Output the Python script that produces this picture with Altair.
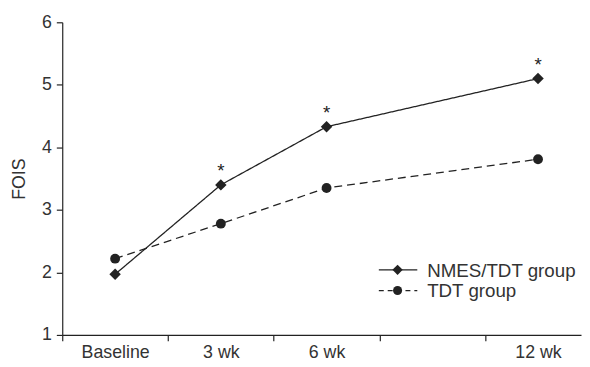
import altair as alt
import pandas as pd

# ---- data ----
weeks = [0, 3, 6, 12]
nmes_tdt = [1.97, 3.40, 4.33, 5.10]
tdt = [2.22, 2.78, 3.35, 3.81]
significant = [False, True, True, True]
series_names = ["NMES/TDT group", "TDT group"]
tick_labels = ["Baseline", "3 wk", "6 wk", "12 wk"]
y_ticks = [1, 2, 3, 4, 5, 6]
# guide positions (in weeks): labels sit on the time points, tick marks between slots
label_positions = [0, 3, 6, 12]
tick_mark_positions = [-1.5, 1.5, 4.5, 7.5, 10.5]

rows = []
for w, a, s in zip(weeks, nmes_tdt, significant):
    rows.append({"week": w, "fois": a, "group": series_names[0], "sig": "*" if s else ""})
for w, b in zip(weeks, tdt):
    rows.append({"week": w, "fois": b, "group": series_names[1], "sig": ""})
df = pd.DataFrame(rows)

INK = "#222222"
TXT = "#333333"
FONT = "Liberation Sans"

label_expr = " : ".join(
    f"abs(datum.value - {v}) < 0.001 ? '{t}'" for v, t in zip(label_positions, tick_labels)
) + " : ''"
label_test = " || ".join(f"abs(datum.value - {v}) < 0.001" for v in label_positions)

x_enc = alt.X(
    "week:Q",
    scale=alt.Scale(domain=[-1.5, 13.22], nice=False, zero=False),
    axis=alt.Axis(
        values=sorted(tick_mark_positions + label_positions),
        labelExpr=label_expr,
        title=None,
        grid=False,
        tickSize=6,
        tickOpacity={"condition": {"test": label_test, "value": 0}, "value": 1},
        labelPadding=3,
        labelFontSize=18,
        labelFlush=False,
        labelOverlap=False,
    ),
)
y_enc = alt.Y(
    "fois:Q",
    scale=alt.Scale(domain=[1, 6], nice=False, zero=False),
    axis=alt.Axis(
        values=y_ticks,
        format="d",
        title="FOIS",
        grid=False,
        tickSize=6,
        labelPadding=5,
        labelFontSize=18,
        titleFontSize=18,
        titleFontWeight="normal",
        titlePadding=13,
    ),
)

dash_scale = alt.Scale(domain=series_names, range=[[1, 0], [8, 5]])
shape_scale = alt.Scale(domain=series_names, range=["diamond", "circle"])

base = alt.Chart(df)

lines = base.mark_line(color=INK, strokeWidth=1.3).encode(
    x=x_enc,
    y=y_enc,
    strokeDash=alt.StrokeDash("group:N", scale=dash_scale, legend=None),
    detail="group:N",
)
points = base.mark_point(filled=True, color=INK, opacity=1).encode(
    x="week:Q",
    y="fois:Q",
    shape=alt.Shape("group:N", scale=shape_scale, legend=None),
    size=alt.Size("group:N", scale=alt.Scale(domain=series_names, range=[135, 100]), legend=None),
)
stars = base.mark_text(font=FONT, fontSize=19, color=INK, dy=-14, baseline="middle").encode(
    x="week:Q", y="fois:Q", text="sig:N"
)

# ---- manual legend (guide) ----
leg_df = pd.DataFrame({"name": series_names})
leg_rows_y = [251, 272]
leg_layers = []
for i, (nm, yy) in enumerate(zip(series_names, leg_rows_y)):
    d = leg_df[leg_df["name"] == nm]
    dash = [1, 0] if i == 0 else [5, 4]
    leg_layers.append(
        alt.Chart(d).mark_rule(color=INK, strokeWidth=1.3, strokeDash=dash).encode(
            x=alt.value(321), x2=alt.value(360), y=alt.value(yy)
        )
    )
    leg_layers.append(
        alt.Chart(d).mark_point(filled=True, color=INK, opacity=1,
                                shape="diamond" if i == 0 else "circle",
                                size=110 if i == 0 else 85).encode(
            x=alt.value(340), y=alt.value(yy)
        )
    )
    leg_layers.append(
        alt.Chart(d).mark_text(font=FONT, fontSize=19, color=TXT, align="left",
                               baseline="middle", dy=1).encode(
            x=alt.value(370), y=alt.value(yy), text="name:N"
        )
    )

chart = alt.layer(lines, points, stars, *leg_layers).properties(
    width=526,
    height=317,
    autosize=alt.AutoSizeParams(type="none"),
    padding={"left": 55, "top": 12, "right": 1, "bottom": 30},
).configure_view(stroke=None).configure_axis(
    domainColor=INK,
    tickColor=INK,
    domainWidth=1.2,
    tickWidth=1.2,
    labelColor=TXT,
    titleColor=TXT,
    labelFont=FONT,
    titleFont=FONT,
)

chart.save("out.html", embed_options={"renderer": "svg", "actions": False})
